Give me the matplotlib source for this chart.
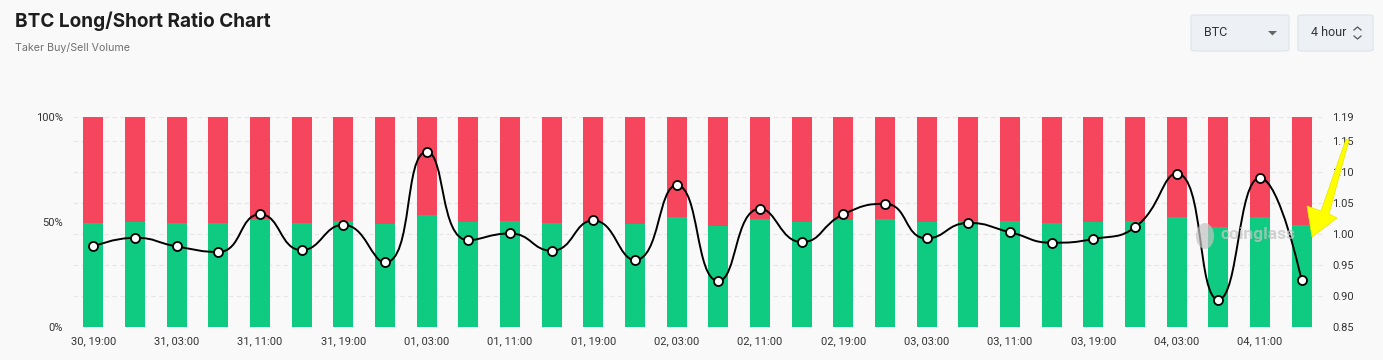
import numpy as np
import matplotlib
matplotlib.use('Agg')
import matplotlib.pyplot as plt
from matplotlib.path import Path
from matplotlib.patches import PathPatch, FancyBboxPatch, Polygon, Ellipse
from matplotlib.lines import Line2D

# data (4 hour buckets)
tick_labels = ['30, 19:00', '31, 03:00', '31, 11:00', '31, 19:00', '01, 03:00',
               '01, 11:00', '01, 19:00', '02, 03:00', '02, 11:00', '02, 19:00',
               '03, 03:00', '03, 11:00', '03, 19:00', '04, 03:00', '04, 11:00']
long_pct = [49.5, 50.0, 49.5, 49.2, 51.1, 49.2, 50.3, 48.7, 53.2, 49.7,
            50.2, 49.2, 50.5, 48.9, 52.1, 48.1, 51.1, 49.7, 50.8, 51.3,
            49.8, 50.2, 50.2, 49.5, 49.7, 50.3, 52.4, 47.3, 52.2, 48.3]
ratio = [0.980, 0.994, 0.980, 0.971, 1.032, 0.974, 1.015, 0.954, 1.133, 0.990,
         1.001, 0.973, 1.022, 0.958, 1.079, 0.924, 1.041, 0.987, 1.032, 1.049,
         0.993, 1.018, 1.003, 0.986, 0.992, 1.011, 1.098, 0.894, 1.091, 0.925]
ratio_ticks = [0.85, 0.90, 0.95, 1.00, 1.05, 1.10, 1.15, 1.19]

GREEN = '#0ecb81'
RED = '#f6465d'
BG = '#f9f9f9'
W, H = 1383, 360

plt.rcParams['font.family'] = ['Roboto', 'DejaVu Sans']

fig = plt.figure(figsize=(W / 100, H / 100), dpi=100, facecolor=BG)


def px(x, y):
    return (x / W, 1 - y / H)


ax = fig.add_axes([72.5 / W, 1 - 326.7 / H, 1250 / W, 210 / H])
ax.set_facecolor(BG)
ax2 = ax.twinx()

x = np.arange(len(long_pct))
longs = np.array(long_pct)
ax.bar(x, longs, width=0.48, color=GREEN, zorder=2)
ax.bar(x, 100 - longs, bottom=longs, width=0.48, color=RED, zorder=2)
ax.set_xlim(-0.5, len(x) - 0.5)
ax.set_ylim(0, 100)
ax.set_yticks([0, 50, 100])
ax.set_yticklabels(['0%', '50%', '100%'])
ax.set_xticks(x[::2])
ax.set_xticklabels(tick_labels)


def smooth_path(xs, ys, sx, sy, smooth=0.5):
    # echarts style bezier smoothing, control points clamped to each segment
    X = np.asarray(xs, float) * sx
    Y = np.asarray(ys, float) * sy
    n = len(X)
    verts = [(X[0], Y[0])]
    codes = [Path.MOVETO]
    cp0 = (X[0], Y[0])
    for i in range(1, n):
        x0, y0 = X[i], Y[i]
        if i < n - 1:
            px_, py_ = X[i - 1], Y[i - 1]
            nx_, ny_ = X[i + 1], Y[i + 1]
            vx, vy = nx_ - px_, ny_ - py_
            lp = np.hypot(x0 - px_, y0 - py_)
            ln = np.hypot(nx_ - x0, ny_ - y0)
            rn = ln / (ln + lp)
            ncx = x0 + vx * smooth * rn
            ncy = y0 + vy * smooth * rn
            ncx = min(max(ncx, min(nx_, x0)), max(nx_, x0))
            ncy = min(max(ncy, min(ny_, y0)), max(ny_, y0))
            vx, vy = ncx - x0, ncy - y0
            c1x = x0 - vx * lp / ln
            c1y = y0 - vy * lp / ln
            c1x = min(max(c1x, min(px_, x0)), max(px_, x0))
            c1y = min(max(c1y, min(py_, y0)), max(py_, y0))
            vx, vy = x0 - c1x, y0 - c1y
            ncx = x0 + vx * ln / lp
            ncy = y0 + vy * ln / lp
        else:
            c1x, c1y = x0, y0
            ncx, ncy = x0, y0
        verts += [cp0, (c1x, c1y), (x0, y0)]
        codes += [Path.CURVE4] * 3
        cp0 = (ncx, ncy)
    verts = [(a / sx, b / sy) for a, b in verts]
    return Path(verts, codes)


r = np.array(ratio)
ax2.add_patch(PathPatch(smooth_path(x, r, 41.67, 617.6), fill=False,
                        edgecolor='black', lw=1.4, zorder=3))
ax2.plot(x, r, ls='none', marker='o', ms=6.5, mfc='white', mec='black',
         mew=1.3, zorder=4)
ax2.set_ylim(0.85, 1.19)
ax2.set_yticks(ratio_ticks)
ax2.set_yticklabels([f'{t:.2f}' for t in ratio_ticks])
for t in ratio_ticks:
    ax.axhline((t - 0.85) / 0.34 * 100, color='#e6e6e6', lw=0.8,
               ls=(0, (4, 3)), zorder=1)

for a in (ax, ax2):
    for sp in a.spines.values():
        sp.set_visible(False)
    a.tick_params(length=0, labelsize=8, colors='#333333')
ax.tick_params(axis='x', pad=7)
ax.tick_params(axis='y', pad=7)
ax2.tick_params(axis='y', pad=7)

# watermark
ax2.text(27.95, 1.0, 'coinglass', fontsize=12.5, fontweight='bold',
         color='#c4c4c4', alpha=0.75, ha='center', va='center', zorder=5)
fig.patches.append(Ellipse(px(1205, 236), 18 / W, 26 / H,
                           transform=fig.transFigure, fc='#c4c4c4',
                           alpha=0.7, ec='none', zorder=5))

# titles
fig.text(*px(15, 21), 'BTC Long/Short Ratio Chart', family=['Inter', 'DejaVu Sans'],
         fontsize=13.7, fontweight='bold', color='#1e1e1e', va='center')
fig.text(*px(15, 48), 'Taker Buy/Sell Volume', family=['Inter', 'DejaVu Sans'],
         fontsize=7.7, color='#707070', va='center')

# selector boxes
for x0, x1, label in [(1191, 1289, 'BTC'), (1298, 1373, '4 hour')]:
    fig.patches.append(FancyBboxPatch(px(x0, 51), (x1 - x0) / W, 36 / H,
                                      boxstyle='round,pad=0,rounding_size=0.004',
                                      transform=fig.transFigure, fc='#edf1f5',
                                      ec='#dce3ea', lw=0.8))
    fig.text(*px(x0 + 13, 33), label, fontsize=9, color='#333333', va='center')
fig.patches.append(Polygon([px(1268, 31), px(1277, 31), px(1272.5, 35.5)],
                           closed=True, transform=fig.transFigure,
                           fc='#666666', ec='none'))
for y0, dy in [(30, -3), (36, 3)]:
    fig.lines.append(Line2D([1354 / W, 1357.5 / W, 1361 / W],
                            [1 - y0 / H, 1 - (y0 + dy) / H, 1 - y0 / H],
                            transform=fig.transFigure, color='#555555', lw=0.9))

# yellow arrow
fig.patches.append(Polygon([px(1349, 140), px(1329, 214), px(1337, 218),
                            px(1312, 237), px(1307, 206), px(1321, 211),
                            px(1346, 139)], closed=True,
                           transform=fig.transFigure, fc='#ffff00',
                           ec='#e6e600', lw=0.5, zorder=10))

fig.savefig('out.png', dpi=100, facecolor=BG)
